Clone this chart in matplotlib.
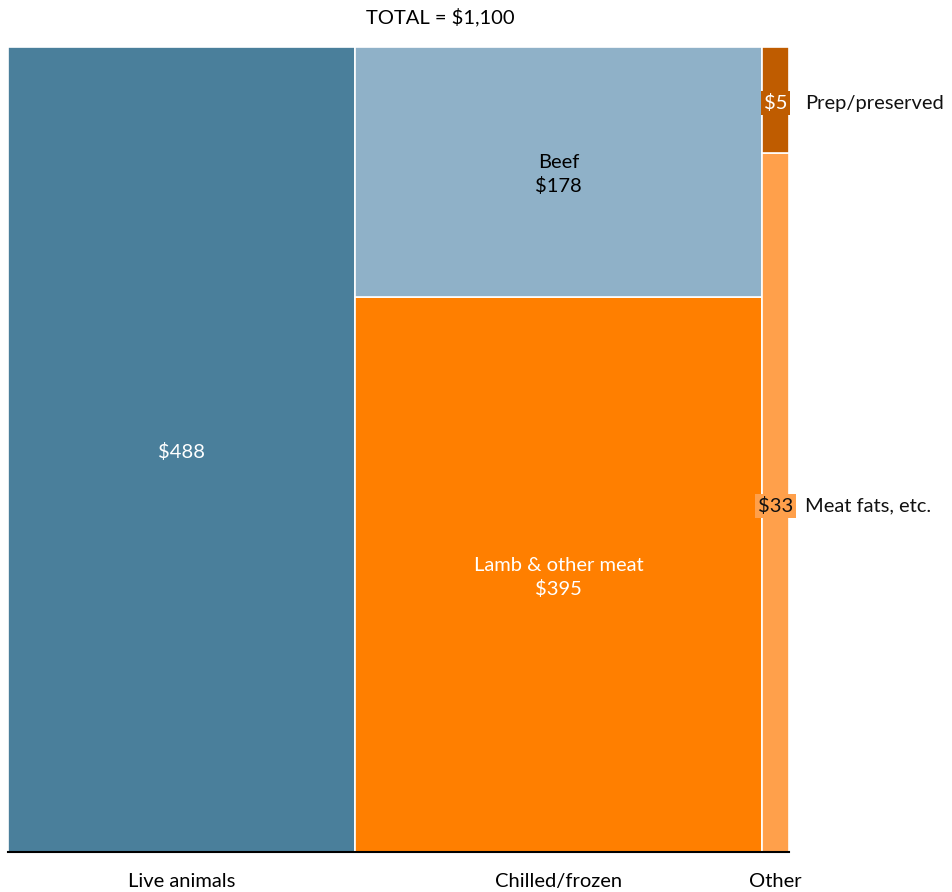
import matplotlib.pyplot as plt
import numpy as np

plt.rcParams['font.family'] = ['Lato', 'DejaVu Sans']

# columns and their segments (bottom -> top)
columns = ['Live animals', 'Chilled/frozen', 'Other']
seg_names = [['Live animals'], ['Lamb & other meat', 'Beef'], ['Meat fats, etc.', 'Prep/preserved']]
seg_values = [[488], [395, 178], [33, 5]]
seg_colors = [['#4A7F9B'], ['#FF7F00', '#8FB1C8'], ['#FFA04B', '#BF5C00']]
total_label = 'TOTAL = $1,100'
fs = 14.5

fig = plt.figure(figsize=(9.52, 8.92), dpi=100)
ax = fig.add_axes([8/952, 40/892, 781/952, 805/892])

widths = [sum(v) for v in seg_values]
total = sum(widths)
lefts = np.concatenate([[0], np.cumsum(widths)[:-1]])
centers = lefts + np.array(widths) / 2

for i in range(len(columns)):
    bottom = 0.0
    for j, val in enumerate(seg_values[i]):
        h = val / widths[i]
        ax.bar(lefts[i], h, width=widths[i], bottom=bottom, align='edge',
               color=seg_colors[i][j], edgecolor='white', linewidth=1.2)
        name = seg_names[i][j]
        cy = bottom + h / 2
        if i == 0:
            ax.annotate(f'${val}', (centers[i], cy), xytext=(0, -2), textcoords='offset points',
                        ha='center', va='center', color='white', fontsize=fs)
        elif i == 1:
            tc = 'black' if name == 'Beef' else 'white'
            ax.annotate(f'{name}\n${val}', (centers[i], cy), xytext=(0, -2), textcoords='offset points',
                        ha='center', va='center', color=tc, fontsize=fs, linespacing=1.4)
        else:
            tc = 'white' if name == 'Prep/preserved' else '#111111'
            ax.annotate(f'${val}', (centers[i], cy), xytext=(0, -2.5), textcoords='offset points',
                        ha='center', va='center', color=tc, fontsize=fs,
                        bbox=dict(boxstyle='square,pad=0.15', fc=seg_colors[i][j], ec='none'))
            ax.annotate(name, (lefts[i] + widths[i], cy), xytext=(11.5, -2.5), textcoords='offset points',
                        ha='left', va='center', fontsize=fs, color='#111111', annotation_clip=False)
        bottom += h

ax.set_xlim(0, total)
ax.set_ylim(0, 1)
ax.set_xticks(centers)
ax.set_xticklabels(columns, fontsize=fs)
ax.tick_params(axis='x', length=0, pad=15)
ax.set_yticks([])
for s in ['top', 'left', 'right']:
    ax.spines[s].set_visible(False)
ax.spines['bottom'].set_linewidth(1.5)
ax.spines['bottom'].set_color('black')

fig.text(440/952, 1 - 17/892, total_label, ha='center', va='center', fontsize=fs)

fig.savefig('out.png', dpi=100)
